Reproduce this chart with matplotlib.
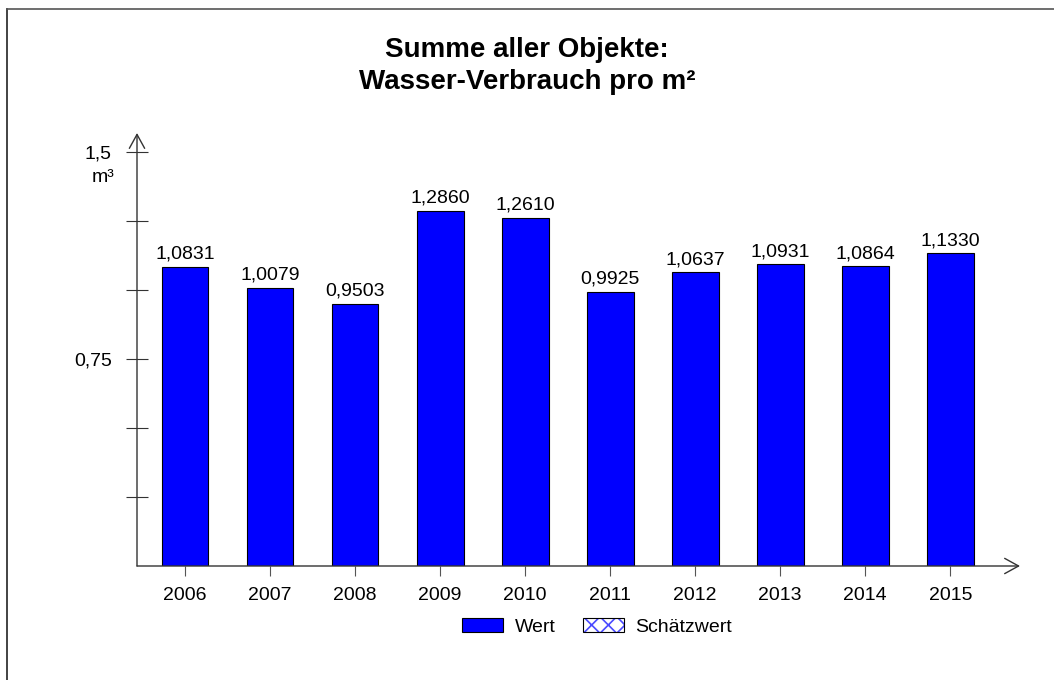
import matplotlib.pyplot as plt
from matplotlib.patches import Patch
from matplotlib.lines import Line2D

years = ["2006", "2007", "2008", "2009", "2010", "2011", "2012", "2013", "2014", "2015"]
wert = [1.0831, 1.0079, 0.9503, 1.2860, 1.2610, 0.9925, 1.0637, 1.0931, 1.0864, 1.1330]
ytick_vals = [0.25, 0.5, 0.75, 1.0, 1.25, 1.5]
ytick_labels = ["", "", "0,75", "", "", "1,5"]

plt.rcParams['font.family'] = ['Liberation Sans', 'DejaVu Sans']
plt.rcParams['hatch.linewidth'] = 1.2

fig = plt.figure(figsize=(10.54, 6.8), dpi=100)
ax = fig.add_axes([137 / 1054, 1 - 566 / 680, (1020 - 137) / 1054, (566 - 133) / 680])

x = list(range(len(years)))
ax.bar(x, wert, width=0.55, color="#0000ff", edgecolor="black", linewidth=0.8)
for xi, v in zip(x, wert):
    ax.annotate(f"{v:.4f}".replace(".", ","), (xi, v), xytext=(0, 3), textcoords="offset points",
                ha="center", va="bottom", fontsize=14)

ax.set_xlim(-0.565, 9.82)
ax.set_ylim(0, 1.569)
ax.set_xticks(x)
ax.set_xticklabels(years, fontsize=14)
ax.set_yticks(ytick_vals)
ax.set_yticklabels(ytick_labels, fontsize=14)
ax.tick_params(axis="x", direction="out", length=7, color="#555555", pad=8)
ax.tick_params(axis="y", direction="inout", length=16, color="#333333", pad=10)
for s in ax.spines.values():
    s.set_visible(False)

arrow = dict(arrowstyle="->,head_length=1.0,head_width=0.55", mutation_scale=10,
             lw=1, color="#333333", shrinkA=0, shrinkB=0)
ax.annotate("", xy=(1, 0), xytext=(0, 0), xycoords="axes fraction", arrowprops=arrow)
ax.annotate("", xy=(0, 1), xytext=(0, 0), xycoords="axes fraction", arrowprops=arrow)

ax.annotate("m³", (0, 1.5), xycoords=("axes fraction", "data"), xytext=(-16, -18),
            textcoords="offset points", ha="right", va="center", fontsize=14)

fig.text(0.5, 1 - 57 / 680, "Summe aller Objekte:", ha="center", va="baseline",
         fontsize=20, fontweight="bold")
fig.text(0.5, 1 - 89 / 680, "Wasser-Verbrauch pro m²", ha="center", va="baseline",
         fontsize=20, fontweight="bold")

wert_h = Patch(facecolor="#0000ff", edgecolor="black", linewidth=0.8)
hatch_h = Patch(facecolor="white", edgecolor="#4a4aff", hatch="xx", linewidth=0)
frame_h = Patch(facecolor="none", edgecolor="black", linewidth=0.8)
fig.legend([wert_h, (hatch_h, frame_h)], ["Wert", "Schätzwert"], loc="center",
           bbox_to_anchor=(597 / 1054, 1 - 627 / 680), ncol=2, frameon=False, fontsize=14,
           handlelength=2.1, handleheight=0.75, columnspacing=1.4, handletextpad=0.6)

fig.add_artist(Line2D([7 / 1054, 7 / 1054], [0, 1 - 9 / 680], color="#222222", lw=1.2))
fig.add_artist(Line2D([7 / 1054, 1], [1 - 9 / 680, 1 - 9 / 680], color="#555555", lw=1.2))

fig.savefig("out.png", dpi=100)
